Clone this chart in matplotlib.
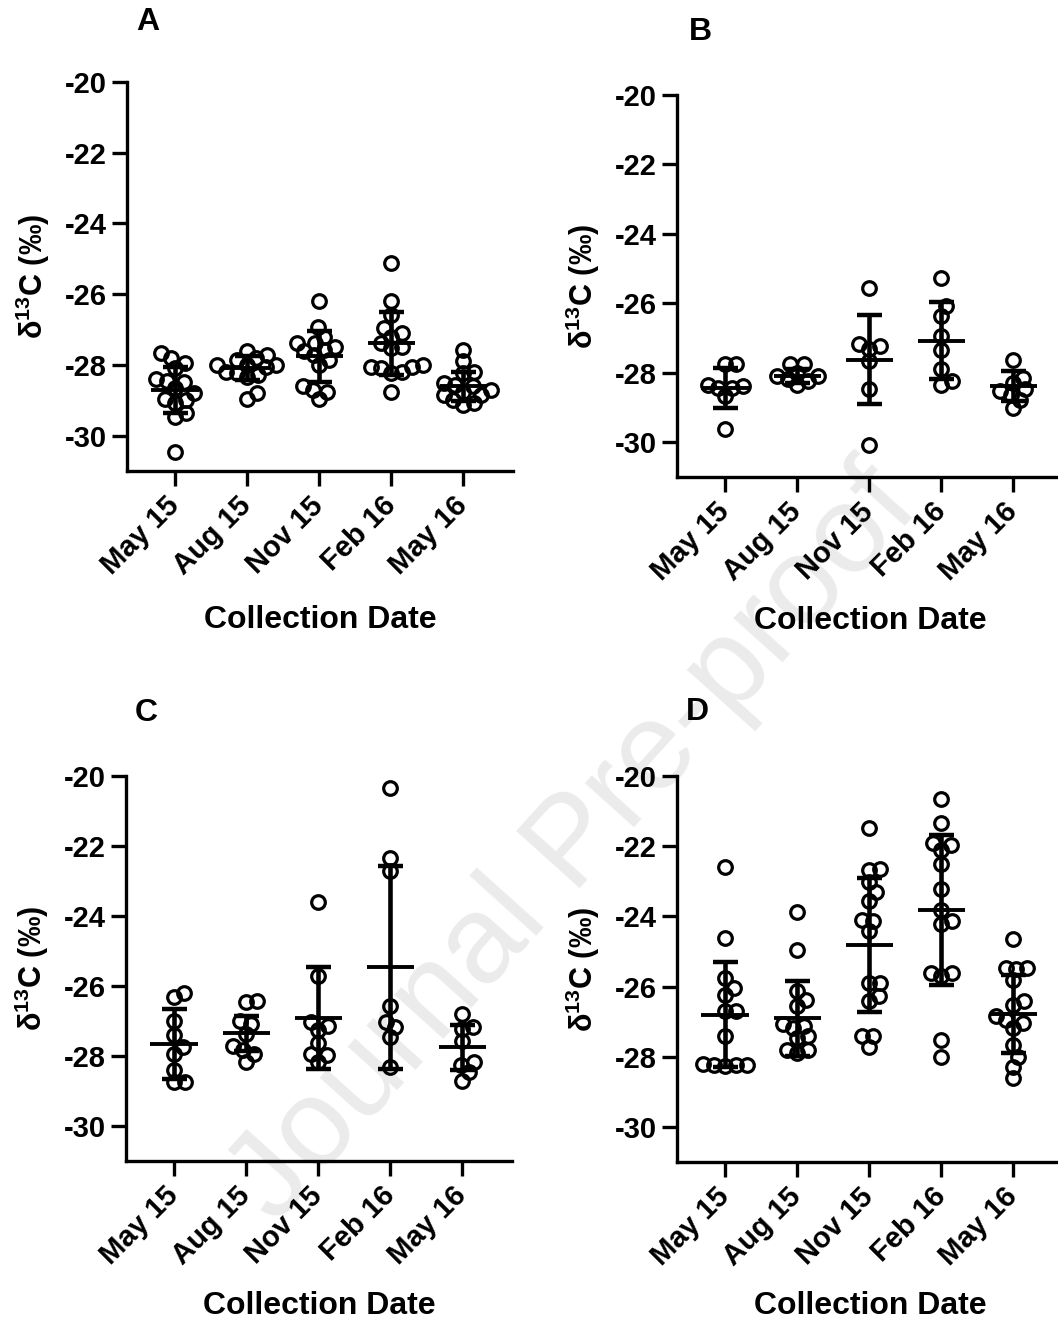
import numpy as np
import matplotlib.pyplot as plt

plt.rcParams["font.family"] = ["Liberation Sans", "DejaVu Sans"]
plt.rcParams["font.weight"] = "bold"
plt.rcParams["mathtext.fontset"] = "custom"
plt.rcParams["mathtext.rm"] = "Liberation Sans"
plt.rcParams["mathtext.bf"] = "Liberation Sans:bold"

dates = ["May 15", "Aug 15", "Nov 15", "Feb 16", "May 16"]
yticks = [-20, -22, -24, -26, -28, -30]

# panel A
a_may15 = [-27.81, -27.67, -27.95, -28.47, -28.45, -28.66, -28.80, -28.99, -29.09,
           -28.95, -29.37, -29.47, -30.46, -28.40, -28.10]
a_aug15 = [-27.62, -27.86, -27.81, -27.72, -28.05, -28.00, -28.00, -28.00, -28.19,
           -28.24, -28.33, -28.28, -28.80, -28.95]
a_nov15 = [-26.20, -26.93, -27.57, -27.48, -27.39, -27.39, -27.72, -27.62, -28.00,
           -27.86, -27.20, -28.61, -28.71, -28.76, -28.97]
a_feb16 = [-25.13, -26.20, -26.58, -26.96, -27.39, -27.10, -27.20, -27.48, -27.52,
           -28.00, -28.05, -28.10, -28.05, -28.24, -28.19, -28.76]
a_may16 = [-27.57, -27.90, -28.19, -28.24, -28.61, -28.52, -28.57, -28.71, -28.76,
           -28.85, -28.85, -29.09, -28.99, -29.13]
a_means = [-28.72, -28.09, -27.76, -27.39, -28.61]
a_sds = [0.65, 0.35, 0.73, 0.90, 0.40]

# panel B
b_may15 = [-27.76, -27.76, -28.34, -28.43, -28.43, -28.38, -28.67, -29.63]
b_aug15 = [-27.76, -27.76, -28.24, -28.10, -28.00, -28.10, -28.19, -28.34]
b_nov15 = [-25.57, -27.30, -27.18, -27.23, -27.66, -28.48, -30.07]
b_feb16 = [-25.26, -26.08, -26.37, -26.94, -27.33, -27.90, -28.34, -28.24]
b_may16 = [-27.62, -28.14, -28.29, -28.53, -28.63, -28.77, -29.01, -28.48]
b_means = [-28.43, -28.10, -27.62, -27.07, -28.38]
b_sds = [0.58, 0.20, 1.28, 1.12, 0.43]

# panel C
c_may15 = [-26.32, -26.20, -26.99, -27.41, -27.75, -27.94, -28.41, -28.75, -28.75]
c_aug15 = [-26.46, -26.42, -26.99, -27.08, -27.37, -27.70, -27.84, -27.94, -28.17]
c_nov15 = [-23.61, -25.70, -27.13, -27.03, -27.27, -27.63, -27.94, -27.98, -28.17]
c_feb16 = [-20.35, -22.33, -22.71, -26.56, -27.03, -27.18, -27.46, -28.32]
c_may16 = [-26.80, -27.22, -27.18, -27.56, -28.27, -28.17, -28.46, -28.70]
c_means = [-27.65, -27.35, -26.91, -25.47, -27.75]
c_sds = [1.00, 0.50, 1.45, 2.90, 0.65]

# panel D
d_may15 = [-22.59, -24.62, -25.77, -26.05, -26.24, -26.70, -26.70, -27.42, -28.23,
           -28.20, -28.27, -28.23, -28.23]
d_aug15 = [-23.88, -24.96, -26.13, -26.37, -26.56, -27.13, -27.08, -27.18, -27.42,
           -27.47, -27.80, -27.80, -27.90]
d_nov15 = [-21.49, -22.67, -22.64, -23.02, -23.31, -23.55, -24.10, -24.12, -24.41,
           -25.89, -25.89, -26.27, -26.42, -27.42, -27.42, -27.71]
d_feb16 = [-20.66, -21.35, -22.11, -21.92, -21.97, -22.50, -23.21, -23.82, -24.12,
           -24.22, -25.60, -25.60, -25.70, -27.52, -28.02]
d_may16 = [-24.65, -25.46, -25.50, -25.46, -25.80, -26.42, -26.52, -27.04, -26.85,
           -26.94, -27.18, -27.66, -28.00, -28.28, -28.62]
d_means = [-26.80, -26.90, -24.82, -23.82, -26.78]
d_sds = [1.50, 1.07, 1.91, 2.13, 1.10]

panels = [
    ("A", [a_may15, a_aug15, a_nov15, a_feb16, a_may16], a_means, a_sds),
    ("B", [b_may15, b_aug15, b_nov15, b_feb16, b_may16], b_means, b_sds),
    ("C", [c_may15, c_aug15, c_nov15, c_feb16, c_may16], c_means, c_sds),
    ("D", [d_may15, d_aug15, d_nov15, d_feb16, d_may16], d_means, d_sds),
]

W, H = 1058, 1322
# axes boxes in pixels: left, top, width, height
boxes = [(127, 82, 386, 389), (677, 95, 386, 382),
         (126, 776, 386, 385), (677, 776, 386, 386)]
letter_pos = [(148, 22), (700, 32), (146, 713), (697, 712)]
xlabel_y = [-0.345, -0.337, -0.337, -0.335]


def swarm(ax, x0, values, gap=11.0):
    pts = ax.transData.transform(np.column_stack([np.full(len(values), x0), values]))
    ys = pts[:, 1]
    offs = np.zeros(len(values))
    placed = []
    for i in np.argsort(ys):
        y = ys[i]
        cands = [0.0]
        for px, py in placed:
            dy = abs(py - y)
            if dy < gap:
                dx = np.sqrt(gap ** 2 - dy ** 2)
                cands += [px + dx, px - dx]
        cands.sort(key=abs)
        for c in cands:
            if all((c - px) ** 2 + (y - py) ** 2 >= gap ** 2 - 1e-6 for px, py in placed):
                offs[i] = c
                break
        placed.append((offs[i], y))
    back = ax.transData.inverted().transform(np.column_stack([pts[:, 0] + offs, ys]))
    return back[:, 0]


fig = plt.figure(figsize=(W / 100, H / 100), dpi=100)

fig.text(575 / W, 1 - 845 / H, "Journal Pre-proof", rotation=48, fontsize=90,
         fontweight="normal", color="#ebebeb", ha="center", va="center", zorder=-1)

for (letter, groups, means, sds), (l, t, w, h), (lx, ly), xly in zip(
        panels, boxes, letter_pos, xlabel_y):
    ax = fig.add_axes([l / W, 1 - (t + h) / H, w / W, h / H])
    ax.set_facecolor("none")
    ax.set_xlim(-0.67, 4.69)
    ax.set_ylim(-31, -20)

    for i, vals in enumerate(groups):
        xs = swarm(ax, i, vals)
        ax.plot(xs, vals, "o", ms=9.8, mew=2.3, mfc="none", mec="black",
                ls="none", zorder=2)

    x = np.arange(len(dates))
    ax.errorbar(x, means, yerr=sds, fmt="none", ecolor="black", elinewidth=3.3,
                capsize=9, capthick=3.2, zorder=3)
    ax.hlines(means, x - 0.33, x + 0.33, color="black", lw=2.8, zorder=3)

    for side in ["top", "right"]:
        ax.spines[side].set_visible(False)
    for side in ["left", "bottom"]:
        ax.spines[side].set_linewidth(2.4)

    ax.set_yticks(yticks)
    ax.set_yticklabels([str(v) for v in yticks], fontsize=21, fontweight="bold")
    ax.set_xticks(x)
    ax.set_xticklabels(dates, fontsize=21, fontweight="bold", rotation=45,
                       ha="right", va="center", rotation_mode="anchor")
    ax.tick_params(axis="both", length=11, width=2.4, color="black")
    ax.tick_params(axis="y", pad=3.5)
    ax.tick_params(axis="x", pad=11)

    ax.set_ylabel(r"$\mathrm{δ}^{\mathbf{13}}$C (‰)", fontsize=22, fontweight="bold")
    ax.yaxis.set_label_coords(-0.195, 0.5)
    ax.set_xlabel("Collection Date", fontsize=23, fontweight="bold")
    ax.xaxis.set_label_coords(0.5, xly)

    fig.text(lx / W, 1 - ly / H, letter, fontsize=23, fontweight="bold",
             ha="center", va="center")

fig.savefig("out.png", dpi=100)
